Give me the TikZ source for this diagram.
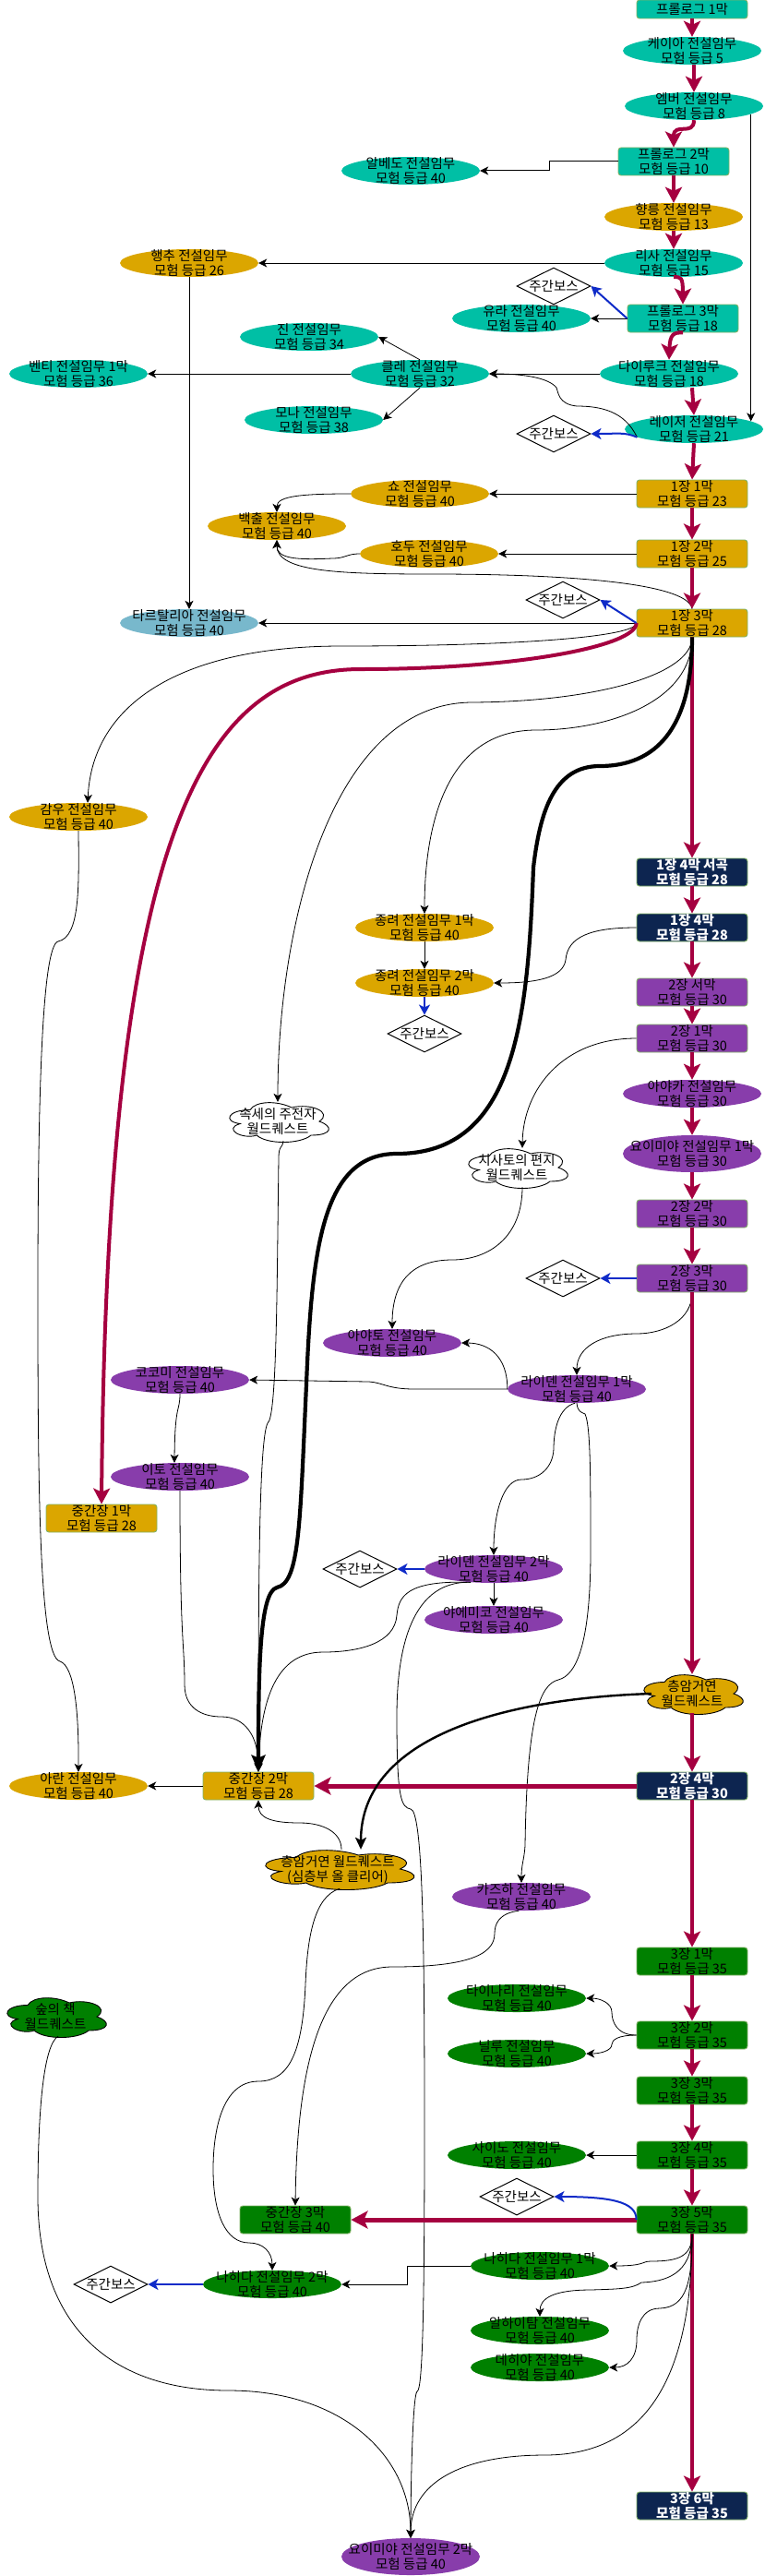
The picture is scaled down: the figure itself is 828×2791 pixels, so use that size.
\documentclass[tikz,border=0pt]{standalone}
\usepackage{fontspec}
\setmainfont{Noto Sans CJK KR}
\usetikzlibrary{arrows.meta,shapes.geometric}
\definecolor{cteal}{HTML}{00BFA5}
\definecolor{cgold}{HTML}{DBA600}
\definecolor{cpurp}{HTML}{883DAB}
\definecolor{cgreen}{HTML}{008000}
\definecolor{cnavy}{HTML}{0D2550}
\definecolor{csky}{HTML}{78B8CC}
\definecolor{ccrim}{HTML}{A50040}
\definecolor{cblue}{HTML}{0F2BC8}
\definecolor{cedge}{HTML}{82B366}
\newcommand\tl[2]{\smash{\makebox[0pt][c]{\raisebox{2.9pt}{#1}}\makebox[0pt][c]{\raisebox{-13.8pt}{#2}}}}
\newcommand\tlo[1]{\smash{\makebox[0pt][c]{\raisebox{-5.4pt}{#1}}}}
\newcommand\tw[2]{\bfseries\color{white}\tl{#1}{#2}}
\tikzset{
  txtfont/.style={font=\fontsize{14.5}{16}\selectfont},
  bx/.style={rectangle,rounded corners=3pt,draw=cedge,line width=0.9pt,fill=#1,minimum width=120pt,minimum height=30pt,inner sep=0pt,txtfont},
  el/.style={ellipse,fill=#1,minimum width=150pt,minimum height=30pt,inner sep=0pt,txtfont},
  elt/.style={ellipse,fill=#1,minimum width=150pt,minimum height=40pt,inner sep=0pt,txtfont},
  dia/.style={diamond,draw=black,fill=white,line width=1pt,minimum width=80pt,minimum height=40pt,inner sep=0pt,txtfont},
  cbox/.style={rectangle,minimum height=42pt,inner sep=0pt,txtfont},
  thn/.style={draw=black,line width=0.8pt,-{Stealth[length=9pt,width=9pt,inset=2.5pt]}},
  thm/.style={draw=black,line width=1pt,-{Stealth[length=9pt,width=9pt,inset=2.5pt]}},
  cr/.style={draw=ccrim,line width=4pt,-{Stealth[length=17pt,width=18pt,inset=4pt]}},
  crh/.style={draw=ccrim,line width=5pt,-{Stealth[length=18pt,width=19pt,inset=4pt]}},
  bl/.style={draw=cblue,line width=2pt,-{Stealth[length=11pt,width=12pt,inset=3pt]}},
  thk/.style={draw=black,line width=4.2pt,-{Stealth[length=18pt,width=15pt,inset=3pt]}},
  thk2/.style={draw=black,line width=2.4pt,-{Stealth[length=13pt,width=12pt,inset=3pt]}},
}
\newcommand\cloudpath[5]{\draw[shift={(#1-#3/2,#2-#4/2)},x=#3pt,y=-#4pt,draw=black,line width=0.9pt,fill=#5]
  (0.25,0.25) .. controls (0.05,0.25) and (0,0.5) .. (0.16,0.55)
  .. controls (0,0.66) and (0.18,0.9) .. (0.31,0.8)
  .. controls (0.4,1) and (0.7,1) .. (0.8,0.8)
  .. controls (1,0.8) and (1,0.6) .. (0.875,0.5)
  .. controls (1,0.3) and (0.8,0.1) .. (0.625,0.2)
  .. controls (0.5,0.05) and (0.3,0.05) .. (0.25,0.25) -- cycle;}
\begin{document}
\begin{tikzpicture}[x=1pt,y=-1pt]
\useasboundingbox (0,0) rectangle (828,2791);
\fill[white] (0,0) rectangle (828,2791);
% clouds
\cloudpath{301}{1215}{120}{50}{white}
\cloudpath{560}{1265}{120}{50}{white}
\cloudpath{750}{1835}{120}{50}{cgold}
\cloudpath{366}{2025}{180}{50}{cgold}
\cloudpath{60}{2185}{120}{50}{cgreen}
\node[cbox,minimum width=108pt] (kettle) at (301,1215) {\tl{속세의 주전자}{월드퀘스트}};
\node[cbox,minimum width=108pt] (letter) at (560,1265) {\tl{치사토의 편지}{월드퀘스트}};
\node[cbox,minimum width=108pt] (strat) at (750,1835) {\tl{층암거연}{월드퀘스트}};
\node[cbox,minimum width=166pt] (deep) at (366,2025) {\tl{층암거연 월드퀘스트}{(심층부 올 클리어)}};
\node[cbox,minimum width=108pt] (book) at (60,2185) {\tl{숲의 책}{월드퀘스트}};
% prologue
\node[bx=cteal,minimum height=20pt] (pa) at (750,10) {\tlo{프롤로그 1막}};
\node[el=cteal] (keia) at (750,55) {\tl{케이아 전설임무}{모험 등급 5}};
\node[el=cteal] (ember) at (752,115) {\tl{엠버 전설임무}{모험 등급 8}};
\node[bx=cteal] (pb) at (730,175) {\tl{프롤로그 2막}{모험 등급 10}};
\node[el=cteal] (albedo) at (445,185) {\tl{알베도 전설임무}{모험 등급 40}};
\node[el=cgold] (xl) at (730,235) {\tl{향릉 전설임무}{모험 등급 13}};
\node[el=cteal] (lisa) at (730,285) {\tl{리사 전설임무}{모험 등급 15}};
\node[el=cgold] (xq) at (205,285) {\tl{행추 전설임무}{모험 등급 26}};
\node[dia] (d1) at (600,310) {\tlo{주간보스}};
\node[bx=cteal] (pc) at (740,345) {\tl{프롤로그 3막}{모험 등급 18}};
\node[el=cteal] (yura) at (565,345) {\tl{유라 전설임무}{모험 등급 40}};
\node[el=cteal] (jean) at (335,365) {\tl{진 전설임무}{모험 등급 34}};
\node[el=cteal] (klee) at (455,405) {\tl{클레 전설임무}{모험 등급 32}};
\node[el=cteal] (diluc) at (725,405) {\tl{다이루크 전설임무}{모험 등급 18}};
\node[el=cteal] (venti) at (85,405) {\tl{벤티 전설임무 1막}{모험 등급 36}};
\node[el=cteal] (mona) at (340,455) {\tl{모나 전설임무}{모험 등급 38}};
\node[el=cteal] (razor) at (752,465) {\tl{레이저 전설임무}{모험 등급 21}};
\node[dia] (d2) at (600,470) {\tlo{주간보스}};
% chapter 1
\node[bx=cgold] (ca) at (750,535) {\tl{1장 1막}{모험 등급 23}};
\node[el=cgold] (sho) at (455,535) {\tl{쇼 전설임무}{모험 등급 40}};
\node[el=cgold] (bc) at (300,570) {\tl{백출 전설임무}{모험 등급 40}};
\node[bx=cgold] (cb) at (750,600) {\tl{1장 2막}{모험 등급 25}};
\node[el=cgold] (hutao) at (465,600) {\tl{호두 전설임무}{모험 등급 40}};
\node[dia] (d3) at (610,650) {\tlo{주간보스}};
\node[bx=cgold] (cc) at (750,675) {\tl{1장 3막}{모험 등급 28}};
\node[el=csky] (tart) at (205,675) {\tl{타르탈리아 전설임무}{모험 등급 40}};
\node[el=cgold] (ganyu) at (85,885) {\tl{감우 전설임무}{모험 등급 40}};
\node[bx=cnavy] (cp) at (750,945) {\tw{1장 4막 서곡}{모험 등급 28}};
\node[bx=cnavy] (cd) at (750,1005) {\tw{1장 4막}{모험 등급 28}};
\node[el=cgold] (zla) at (460,1005) {\tl{종려 전설임무 1막}{모험 등급 40}};
\node[el=cgold] (zlb) at (460,1065) {\tl{종려 전설임무 2막}{모험 등급 40}};
\node[dia] (d4) at (460,1120) {\tlo{주간보스}};
% chapter 2
\node[bx=cpurp] (da) at (750,1075) {\tl{2장 서막}{모험 등급 30}};
\node[bx=cpurp] (db) at (750,1125) {\tl{2장 1막}{모험 등급 30}};
\node[el=cpurp] (ayaka) at (750,1185) {\tl{아야카 전설임무}{모험 등급 30}};
\node[elt=cpurp] (yoia) at (750,1250) {\tl{요이미야 전설임무 1막}{모험 등급 30}};
\node[bx=cpurp] (dc) at (750,1315) {\tl{2장 2막}{모험 등급 30}};
\node[bx=cpurp] (dd) at (750,1385) {\tl{2장 3막}{모험 등급 30}};
\node[dia] (d5) at (610,1385) {\tlo{주간보스}};
\node[el=cpurp] (ayato) at (425,1455) {\tl{아야토 전설임무}{모험 등급 40}};
\node[el=cpurp] (raia) at (625,1505) {\tl{라이덴 전설임무 1막}{모험 등급 40}};
\node[el=cpurp] (koko) at (195,1495) {\tl{코코미 전설임무}{모험 등급 40}};
\node[el=cpurp] (ito) at (195,1600) {\tl{이토 전설임무}{모험 등급 40}};
\node[bx=cgold] (ma) at (110,1645) {\tl{중간장 1막}{모험 등급 28}};
\node[el=cpurp] (raib) at (535,1700) {\tl{라이덴 전설임무 2막}{모험 등급 40}};
\node[dia] (d6) at (390,1700) {\tlo{주간보스}};
\node[el=cpurp] (yae) at (535,1755) {\tl{야에미코 전설임무}{모험 등급 40}};
\node[el=cgold] (aran) at (85,1935) {\tl{아란 전설임무}{모험 등급 40}};
\node[bx=cgold] (mb) at (280,1935) {\tl{중간장 2막}{모험 등급 28}};
\node[bx=cnavy] (de) at (750,1935) {\tw{2장 4막}{모험 등급 30}};
\node[el=cpurp] (kazu) at (565,2055) {\tl{카즈하 전설임무}{모험 등급 40}};
% chapter 3
\node[bx=cgreen] (ea) at (750,2125) {\tl{3장 1막}{모험 등급 35}};
\node[el=cgreen] (tign) at (560,2165) {\tl{타이나리 전설임무}{모험 등급 40}};
\node[el=cgreen] (nilou) at (560,2225) {\tl{닐루 전설임무}{모험 등급 40}};
\node[bx=cgreen] (eb) at (750,2205) {\tl{3장 2막}{모험 등급 35}};
\node[bx=cgreen] (ec) at (750,2265) {\tl{3장 3막}{모험 등급 35}};
\node[bx=cgreen] (ed) at (750,2335) {\tl{3장 4막}{모험 등급 35}};
\node[el=cgreen] (cyno) at (560,2335) {\tl{사이노 전설임무}{모험 등급 40}};
\node[dia] (d7) at (560,2380) {\tlo{주간보스}};
\node[bx=cgreen] (ee) at (750,2405) {\tl{3장 5막}{모험 등급 35}};
\node[bx=cgreen] (mc) at (320,2405) {\tl{중간장 3막}{모험 등급 40}};
\node[el=cgreen] (naha) at (585,2455) {\tl{나히다 전설임무 1막}{모험 등급 40}};
\node[el=cgreen] (nahb) at (295,2475) {\tl{나히다 전설임무 2막}{모험 등급 40}};
\node[dia] (d8) at (120,2475) {\tlo{주간보스}};
\node[el=cgreen] (alha) at (585,2525) {\tl{알하이탐 전설임무}{모험 등급 40}};
\node[el=cgreen] (dehy) at (585,2565) {\tl{데히야 전설임무}{모험 등급 40}};
\node[bx=cnavy] (ef) at (750,2715) {\tw{3장 6막}{모험 등급 35}};
\node[elt=cpurp] (yoib) at (445,2770) {\tl{요이미야 전설임무 2막}{모험 등급 40}};
% thin edges
\draw[thn] (ember.-8) -- (razor.8);
\draw[thm] (pb.west) -- (595,175) -- (595,185) -- (albedo.east);
\draw[thm] (lisa.west) -- (xq.east);
\draw[thn] (xq.south) -- (tart.north);
\draw[thm] (pc.west) -- (yura.east);
\draw[thm] (diluc.west) -- (klee.east);
\draw[thm] (klee.west) -- (venti.east);
\draw[thn] (klee.north) -- (jean.east);
\draw[thn] (klee.south) -- (mona.east);
\draw[thn] (razor.188) .. controls (677,445) and (650,440) .. (625,440) .. controls (605,438) and (605,425) .. (603,420) .. controls (595,410) and (570,405) .. (klee.east);
\draw[thm] (ca.west) -- (sho.east);
\draw[thm] (cb.west) -- (hutao.east);
\draw[thn] (sho.west) .. controls (330,535) and (300,537) .. (bc.north);
\draw[thn] (hutao.west) .. controls (375,600) and (375,605) .. (360,605) .. controls (320,607) and (300,605) .. (bc.south);
\draw[thn] (cc.north) .. controls (745,630) and (600,622) .. (470,622) .. controls (370,622) and (300,620) .. (bc.south);
\draw[thm] (cc.west) -- (tart.east);
\draw[thn] (cc.west) .. controls (690,690) and (560,700) .. (370,700) .. controls (200,700) and (100,760) .. ([xshift=10]ganyu.north);
\draw[thn] (ganyu.south) .. controls (85.5,960) and (87,1015) .. (63,1020) .. controls (45,1024) and (41,1200) .. (41,1400) .. controls (41,1600) and (42,1795) .. (65,1800) .. controls (80,1805) and (85.5,1850) .. (aran.north);
\draw[thn] (cc.south) .. controls (750,730) and (650,760) .. (512,761) .. controls (360,761) and (301,1000) .. (kettle.north);
\draw[thn] (cc.south) .. controls (750,760) and (660,791) .. (581,791) .. controls (480,791) and (460,900) .. (zla.north);
\draw[thn] (zla.south) -- (zlb.north);
\draw[thn] (cd.west) .. controls (640,1005) and (615,1015) .. (613,1040) .. controls (610,1060) and (580,1065) .. (zlb.east);
\draw[thn] (db.west) .. controls (610,1125) and (567,1180) .. ([xshift=6]letter.north);
\draw[thn] ([xshift=6]letter.south) .. controls (566,1340) and (530,1365) .. (490,1365) .. controls (445,1365) and (425,1390) .. (ayato.north);
\draw[thn] (dd.south) .. controls (750,1430) and (720,1445) .. (690,1445) .. controls (650,1445) and (625,1460) .. (raia.north);
\draw[thn] (raia.west) .. controls (550,1470) and (530,1455) .. (ayato.east);
\draw[thn] (raia.west) -- (449,1505) .. controls (420,1505) and (415,1498) .. (400,1497) -- (koko.east);
\draw[thn] (koko.south) .. controls (195,1530) and (189.5,1520) .. ([xshift=-6]ito.north);
\draw[thn] (ito.south) .. controls (195,1780) and (200,1780) .. (200,1825) .. controls (200,1855) and (225,1860) .. (240,1860) .. controls (265,1860) and (280,1880) .. (mb.north);
\draw[thn] ([xshift=6]kettle.south) .. controls (306,1245) and (302,1240) .. (302,1255) .. controls (300,1400) and (300,1535) .. (290,1542) .. controls (280,1560) and (280,1750) .. (mb.north);
\draw[thn] (raia.-97) .. controls (605,1525) and (600,1550) .. (600,1570) .. controls (599,1590) and (585,1603) .. (565,1603) .. controls (545,1603) and (535,1640) .. (raib.north);
\draw[thn] (raia.south) .. controls (626,1530) and (630,1530) .. (634,1532) .. controls (640,1545) and (640,1600) .. (640,1680) .. controls (640,1780) and (625,1815) .. (605,1820) .. controls (585,1825) and (571,1860) .. (569,2000) .. controls (568,2015) and (565,2020) .. (kazu.north);
\draw[thn] (raib.south) -- (yae.north);
\draw[thn] (raib.-150) .. controls (440,1712) and (432,1730) .. (430,1750) .. controls (428,1780) and (390,1790) .. (350,1790) .. controls (300,1790) and (282,1840) .. (mb.north);
\draw[thn] (raib.-150) .. controls (440,1712) and (430,1800) .. (430,1860) .. controls (430,1950) and (435,1958) .. (445,1960) .. controls (458,1962) and (460,2100) .. (460,2300) .. controls (460,2500) and (458,2590) .. (452,2591) .. controls (447,2595) and (445,2700) .. (yoib.north);
\draw[thm] (mb.west) -- (aran.east);
\draw[thn] ([xshift=4]deep.north) .. controls (370,1985) and (350,1975) .. (325,1975) .. controls (295,1975) and (280,1970) .. (mb.south);
\draw[thn] ([xshift=2]deep.south) .. controls (340,2055) and (333,2100) .. (331,2150) .. controls (328,2220) and (315,2255) .. (280,2255) .. controls (240,2255) and (231,2310) .. (231,2350) .. controls (231,2400) and (245,2430) .. (270,2430) .. controls (285,2430) and (295,2440) .. (nahb.north);
\draw[thn] (kazu.-100) .. controls (540,2073) and (536,2085) .. (536,2095) .. controls (536,2120) and (500,2131) .. (425,2131) .. controls (350,2131) and (322,2230) .. (mc.north);
\draw[thn] (eb.west) .. controls (668,2205) and (663,2190) .. (663,2180) .. controls (663,2170) and (650,2165) .. (tign.east);
\draw[thn] (eb.west) .. controls (670,2205) and (663,2210) .. (663,2215) .. controls (663,2222) and (650,2225) .. (nilou.east);
\draw[thm] (ed.west) -- (cyno.east);
\draw[thm] (naha.west) -- (441,2455) -- (441,2475) -- (nahb.east);
\draw[thn] ([xshift=3]book.south) .. controls (48,2215) and (41,2280) .. (41,2380) .. controls (41,2520) and (120,2590) .. (248,2590) .. controls (370,2590) and (445,2660) .. (yoib.north);
% crimson edges
\draw[cr] (pa.south) -- (keia.north);
\draw[cr] ([xshift=2]keia.south) -- (ember.north);
\draw[cr] (ember.south) .. controls (752,148) and (730,132) .. (pb.north);
\draw[cr] (pb.south) -- (xl.north);
\draw[cr] (xl.south) -- (lisa.north);
\draw[cr] (lisa.south) .. controls (738,300) and (740,300) .. (pc.north);
\draw[cr] (pc.south) .. controls (730,360) and (726,362) .. ([xshift=0]diluc.north);
\draw[cr] ([xshift=25]diluc.south) -- (razor.north);
\draw[cr] (razor.south) -- (ca.north);
\draw[cr] (ca.south) -- (cb.north);
\draw[cr] (cb.south) -- (cc.north);
\draw[cr] (cc.south) -- (cp.north);
\draw[cr] (cp.south) -- (cd.north);
\draw[cr] (cd.south) -- (da.north);
\draw[cr] (da.south) -- (db.north);
\draw[cr] (db.south) -- (ayaka.north);
\draw[cr] (ayaka.south) -- (yoia.north);
\draw[cr] (yoia.south) -- (dc.north);
\draw[cr] (dc.south) -- (dd.north);
\draw[cr] (dd.south) -- (strat.north);
\draw[cr] (strat.south) -- (de.north);
\draw[cr] (de.south) -- (ea.north);
\draw[cr] (ea.south) -- (eb.north);
\draw[cr] (eb.south) -- (ec.north);
\draw[cr] (ec.south) -- (ed.north);
\draw[cr] (ed.south) -- (ee.north);
\draw[cr] (ee.south) -- (ef.north);
\draw[crh] (de.west) -- (mb.east);
\draw[crh] (ee.west) -- (mc.east);
\draw[cr] (cc.west) .. controls (690,700) and (560,725) .. (391,725) .. controls (220,725) and (116,900) .. (ma.north);
% black edges over the crimson ones at 3-5
\draw[thn] (ee.south) .. controls (750,2560) and (710,2660) .. (590,2660) .. controls (500,2660) and (445,2690) .. (yoib.north);
\draw[thn] (ee.south) .. controls (750,2445) and (735,2450) .. (705,2450) .. controls (695,2450) and (700,2455) .. (naha.east);
\draw[thn] (ee.south) .. controls (750,2465) and (720,2472) .. (695,2473) .. controls (685,2480) and (670,2480) .. (640,2481) .. controls (600,2481) and (585,2490) .. (alha.north);
\draw[thn] (ee.south) .. controls (750,2470) and (745,2500) .. (715,2501) .. controls (695,2501) and (690,2520) .. (690,2535) .. controls (690,2555) and (680,2565) .. (dehy.east);
% thick black
\draw[thk] (cc.south) .. controls (750,790) and (710,830) .. (650,830) .. controls (600,830) and (585,880) .. (578,940) .. controls (572,1100) and (560,1250) .. (430,1250) .. controls (350,1250) and (338,1350) .. (332,1500) .. controls (325,1650) and (325,1715) .. (300,1720) .. controls (282,1725) and (280,1800) .. (mb.north);
\draw[thk2] ([xshift=10]strat.west) .. controls (550,1840) and (391,1880) .. ([xshift=25]deep.north);
% blue edges
\draw[bl] (pc.west) -- (d1.east);
\draw[bl] (razor.188) .. controls (677,468) and (670,470) .. (d2.east);
\draw[bl] (cc.west) -- (d3.east);
\draw[bl] (zlb.south) -- (d4.north);
\draw[bl] (dd.west) -- (d5.east);
\draw[bl] (raib.west) -- (d6.east);
\draw[bl] (ee.west) .. controls (690,2385) and (660,2380) .. (d7.east);
\draw[bl] (nahb.west) -- (d8.east);
\end{tikzpicture}
\end{document}
